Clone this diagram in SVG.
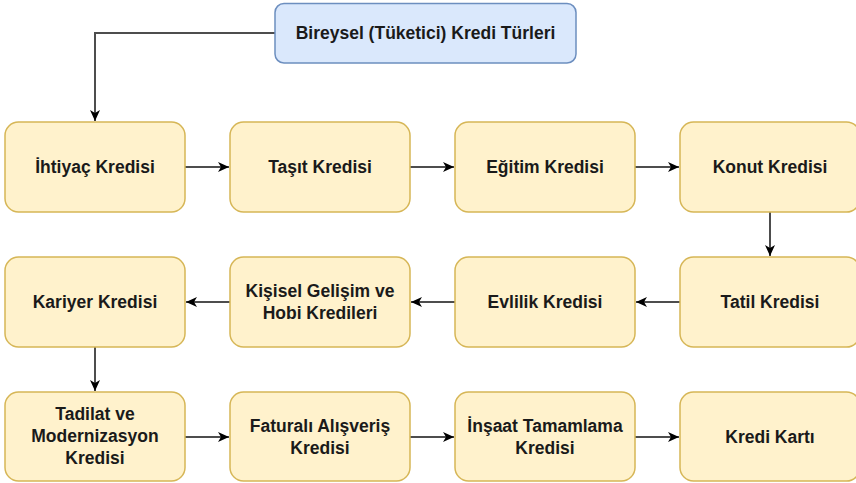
<svg xmlns="http://www.w3.org/2000/svg" width="856" height="483" viewBox="0 0 856 483">
<style>
.box{fill:#fff2cc;stroke:#d6b656;stroke-width:1.5}
.top{fill:#dae8fc;stroke:#6c8ebf;stroke-width:1.5}
text{font-family:"Liberation Sans",Arial,sans-serif;font-weight:bold;font-size:17.5px;fill:#1a1a1a;text-anchor:middle}
.edge{fill:none;stroke:#4d4d4d;stroke-width:2}
</style>
<defs>
<marker id="arr" markerUnits="userSpaceOnUse" markerWidth="12" markerHeight="12" viewBox="0 0 12 12" refX="11" refY="6" orient="auto">
<path d="M0,1 L11,6 L0,11 L3,6 Z" fill="#000"/>
</marker>
</defs>
<rect width="856" height="483" fill="#fff"/>
<g id="connectors">
<path class="edge" d="M275,33 H95 V121" marker-end="url(#arr)"/>
<path class="edge" d="M185,167 H229" marker-end="url(#arr)"/>
<path class="edge" d="M410,167 H454" marker-end="url(#arr)"/>
<path class="edge" d="M635,167 H679" marker-end="url(#arr)"/>
<path class="edge" d="M770,212 V256" marker-end="url(#arr)"/>
<path class="edge" d="M680,302 H636" marker-end="url(#arr)"/>
<path class="edge" d="M455,302 H411" marker-end="url(#arr)"/>
<path class="edge" d="M230,302 H186" marker-end="url(#arr)"/>
<path class="edge" d="M95,347 V391" marker-end="url(#arr)"/>
<path class="edge" d="M185,437 H229" marker-end="url(#arr)"/>
<path class="edge" d="M410,437 H454" marker-end="url(#arr)"/>
<path class="edge" d="M635,437 H679" marker-end="url(#arr)"/>
</g>
<g id="n0"><rect class="top" x="275" y="3.5" width="301" height="59.5" rx="9"/><text x="425.5" y="39">Bireysel (Tüketici) Kredi Türleri</text></g>
<g id="n1"><rect class="box" x="5" y="122" width="180" height="90" rx="13.5"/><text x="95" y="173">İhtiyaç Kredisi</text></g>
<g id="n2"><rect class="box" x="230" y="122" width="180" height="90" rx="13.5"/><text x="320" y="173">Taşıt Kredisi</text></g>
<g id="n3"><rect class="box" x="455" y="122" width="180" height="90" rx="13.5"/><text x="545" y="173">Eğitim Kredisi</text></g>
<g id="n4"><rect class="box" x="680" y="122" width="180" height="90" rx="13.5"/><text x="770" y="173">Konut Kredisi</text></g>
<g id="n5"><rect class="box" x="680" y="257" width="180" height="90" rx="13.5"/><text x="770" y="308">Tatil Kredisi</text></g>
<g id="n6"><rect class="box" x="455" y="257" width="180" height="90" rx="13.5"/><text x="545" y="308">Evlilik Kredisi</text></g>
<g id="n7"><rect class="box" x="230" y="257" width="180" height="90" rx="13.5"/><text x="320" y="297">Kişisel Gelişim ve</text><text x="320" y="319">Hobi Kredileri</text></g>
<g id="n8"><rect class="box" x="5" y="257" width="180" height="90" rx="13.5"/><text x="95" y="308">Kariyer Kredisi</text></g>
<g id="n9"><rect class="box" x="5" y="392" width="180" height="89" rx="13.5"/><text x="95" y="420">Tadilat ve</text><text x="95" y="442">Modernizasyon</text><text x="95" y="464">Kredisi</text></g>
<g id="n10"><rect class="box" x="230" y="392" width="180" height="89" rx="13.5"/><text x="320" y="432">Faturalı Alışveriş</text><text x="320" y="454">Kredisi</text></g>
<g id="n11"><rect class="box" x="455" y="392" width="180" height="89" rx="13.5"/><text x="545" y="432">İnşaat Tamamlama</text><text x="545" y="454">Kredisi</text></g>
<g id="n12"><rect class="box" x="680" y="392" width="180" height="89" rx="13.5"/><text x="770" y="443">Kredi Kartı</text></g>
</svg>
